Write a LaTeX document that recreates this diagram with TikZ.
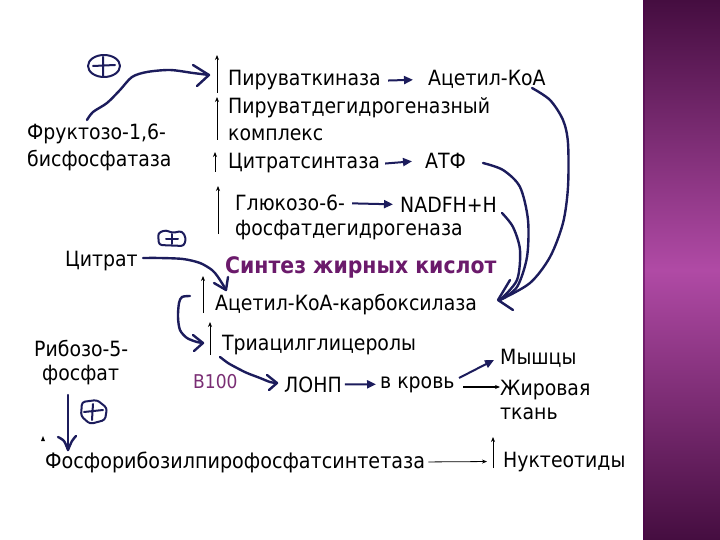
\documentclass[tikz,border=0pt]{standalone}
\usepackage{fontspec}
\setmainfont{DejaVu Sans Condensed}
\newfontfamily\titlefont{DejaVu Sans Condensed Bold}
\usetikzlibrary{arrows.meta,calc}
\definecolor{navy}{HTML}{1C1C5C}
\definecolor{ttl}{HTML}{6B1A6B}
\definecolor{bpur}{HTML}{7A2E74}
\definecolor{sbtop}{HTML}{450D40}
\definecolor{sbmid}{HTML}{B04AA5}
\tikzset{
  txt/.style={anchor=base west, inner sep=0pt, font=\fontsize{21}{24}\selectfont},
  thinarr/.style={-{Stealth[length=5pt,width=4pt]}, line width=0.8pt, black},
  sarr/.style={navy, line width=2pt, -{Triangle[length=9pt,width=8pt]}},
  hand/.style={navy, line width=2.4pt, line cap=round, line join=round},
}
\begin{document}
\begin{tikzpicture}[x=1pt,y=-1pt]
\useasboundingbox (0,0) rectangle (720,540);
\fill[white] (0,0) rectangle (720,540);
% sidebar
\shade[top color=sbtop, bottom color=sbtop, middle color=sbmid] (643,0) rectangle (720,540);
\draw[line width=2pt, violet!60!black, opacity=0.5] (644,0) -- (644,540);

% texts
\node[txt] (pk) at (228,86) {Пируваткиназа};
\node[txt] (acoa) at (428,86) {Ацетил-КоА};
\node[txt] (pdh) at (228,114) {Пируватдегидрогеназный};
\node[txt] (kompl) at (228,141) {комплекс};
\node[txt] (cs) at (228,169) {Цитратсинтаза};
\node[txt] (atf) at (425,169) {АТФ};
\node[txt] (g6) at (235,211) {Глюкозо-6-};
\node[txt] (nadph) at (400,212) {NADFH+H};
\node[txt] (g6b) at (235,236) {фосфатдегидрогеназа};
\node[txt, font=\titlefont\fontsize{22.7}{26}\selectfont, text=ttl] (synt) at (225,273) {Синтез жирных кислот};
\node[txt] (acc) at (215,310) {Ацетил-КоА-карбоксилаза};
\node[txt] (tag) at (222,350) {Триацилглицеролы};
\node[txt, font=\fontsize{19}{21}\selectfont, text=bpur] (b100) at (193,388) {В100};
\node[txt] (lonp) at (284,392) {ЛОНП};
\node[txt] (blood) at (380,388) {в кровь};
\node[txt] (musc) at (500,364) {Мышцы};
\node[txt] (fat) at (500,395) {Жировая};
\node[txt] (fat2) at (500,419) {ткань};
\node[txt] (nucl) at (503,467) {Нуктеотиды};
\node[txt, font=\fontsize{21.3}{24}\selectfont] (prpp) at (45,468) {Фосфорибозилпирофосфатсинтетаза};
\node[txt] (fbp) at (27,140) {Фруктозо-1,6-};
\node[txt] (fbp2) at (27,167) {бисфосфатаза};
\node[txt] (cit) at (65,266) {Цитрат};
\node[txt] (rib) at (34,356) {Рибозо-5-};
\node[txt] (rib2) at (42,380) {фосфат};

% thin up arrows
\draw[thinarr] (217,93) -- (217,55);
\draw[thinarr] (217,140) -- (217,97);
\draw[thinarr] (215,172) -- (215,152);
\draw[thinarr] (218,234) -- (218,186);
\draw[thinarr] (203,313) -- (203,276);
\draw[thinarr] (210,355) -- (210,322);
\draw[thinarr] (493,468) -- (493,437);
\draw[thinarr] ([xshift=3pt]prpp.east) -- ([xshift=-16pt]nucl.west);
\coordinate (bl) at (463,387);
\draw[thinarr, line width=1.2pt] (bl) -- (bl -| fat.west);

% short navy arrows
\draw[sarr] ([xshift=7pt]pk.east) -- ([xshift=-15pt]acoa.west);
\draw[sarr] ([xshift=5pt]cs.east) -- ([xshift=-13pt]atf.west);
\draw[sarr] ([xshift=7pt]g6.east) -- ([xshift=-7pt]nadph.west);
\draw[sarr] ([xshift=3pt]lonp.east) -- ([xshift=-4pt]blood.west);
\draw[sarr] (459,378) -- (494,360);

% fructose curve with plus
\draw[hand] plot[smooth] coordinates {(87,120) (93,112) (107,103) (120,90) (132,77) (147,72) (170,70) (193,73) (209,75)};
\draw[hand] (193,65) -- (209,75) -- (197,86);
\draw[hand, line width=2pt] (104,66) ellipse [x radius=16, y radius=11];
\draw[hand, line width=2pt] (93,66) -- (115,65) (103,57) -- (103,76);

% citrate curve
\draw[hand] plot[smooth] coordinates {(143,258) (160,258) (183,259) (200,263) (212,270) (218,277) (225,288)};
\draw[hand] (214,283) -- (226,290) -- (228,277);
\draw[hand, line width=2pt, rounded corners=3pt] (159,245) -- (158,233) -- (166,230) -- (172,233) -- (182,231) -- (186,238) -- (184,246) -- cycle;
\draw[hand, line width=2pt] (166,239) -- (178,239) (172,234) -- (172,244);

% bracket curve
\draw[hand] plot[smooth] coordinates {(190,296) (182,297) (179,303) (178,317) (180,330) (187,338) (197,342) (203,343)};
\draw[hand] (193,335) -- (203,343) -- (194,351);

% TAG -> LONP
\draw[hand] plot[smooth] coordinates {(220,357) (228,363) (237,368) (247,373) (260,378) (270,382) (277,383)};
\draw[hand] (267,375) -- (277,383) -- (269,390);

% right big curves
\draw[hand] plot[smooth] coordinates {(532,88) (550,100) (563,120) (568,143) (568,187) (563,223) (550,257) (530,283) (500,300)};
\draw[hand] plot[smooth] coordinates {(483,163) (503,170) (520,187) (528,220) (527,257) (517,287) (500,300)};
\draw[hand] plot[smooth] coordinates {(502,213) (513,227) (520,250) (517,280) (500,300)};
\draw[hand] (510,280) -- (498,300) -- (513,310);

% ribose arrow
\draw[hand] (68,395) -- (68,450);
\draw[hand] plot[smooth] coordinates {(58,437) (64,441) (68,450)};
\draw[hand] plot[smooth] coordinates {(76,436) (72,441) (68,450)};
\draw[hand, line width=2pt, rounded corners=3pt] (82,402) -- (97,400) -- (107,408) -- (105,420) -- (90,424) -- (81,416) -- cycle;
\draw[hand, line width=2pt] (84,412) -- (103,410) (93,404) -- (92,420);
\fill[black] (41,441) -- (43,436) -- (45,441) -- cycle;
\end{tikzpicture}
\end{document}
